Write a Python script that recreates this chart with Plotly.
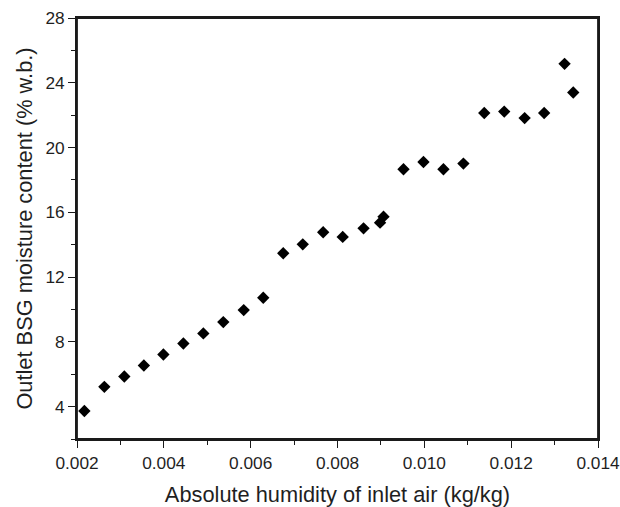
import plotly.graph_objects as go

# Data
humidity = [0.00217, 0.00263, 0.00309, 0.00354, 0.00399, 0.00445, 0.00491, 0.00537,
            0.00584, 0.00629, 0.00675, 0.00720, 0.00767, 0.00812, 0.00860, 0.00898,
            0.00906, 0.00952, 0.00998, 0.01044, 0.01090, 0.01138, 0.01184, 0.01231,
            0.01276, 0.01323, 0.01343]
moisture = [3.73, 5.22, 5.86, 6.54, 7.22, 7.90, 8.52, 9.22,
            9.96, 10.72, 13.47, 14.02, 14.77, 14.48, 15.01, 15.36,
            15.73, 18.66, 19.11, 18.66, 19.01, 22.13, 22.22, 21.82,
            22.13, 25.17, 23.40]

x_ticks = [0.002, 0.004, 0.006, 0.008, 0.010, 0.012, 0.014]
x_ticklabels = ["0.002", "0.004", "0.006", "0.008", "0.010", "0.012", "0.014"]
y_ticks = [4, 8, 12, 16, 20, 24, 28]

FONT = "Liberation Sans, Arial, sans-serif"
INK = "#1f1f1f"
LINE = "#1a1a1a"

fig = go.Figure()
fig.add_trace(go.Scatter(
    x=humidity, y=moisture, mode="markers",
    marker=dict(symbol="diamond", size=9.5, color="black", line=dict(width=0)),
    showlegend=False,
))

axis_common = dict(
    showgrid=False, zeroline=False, showline=True, linecolor=LINE, linewidth=1.8,
    mirror=True, ticks="outside", ticklen=7, tickwidth=1.3, tickcolor=LINE,
    tickfont=dict(family=FONT, size=17.3, color=INK),
    ticklabeloverflow="allow", automargin=False,
)

fig.update_xaxes(
    range=[0.002, 0.014], tickvals=x_ticks, ticktext=x_ticklabels,
    minor=dict(dtick=0.001, ticks="outside", ticklen=4, tickwidth=1.3, tickcolor=LINE),
    title=dict(text="Absolute humidity of inlet air (kg/kg)",
               font=dict(family=FONT, size=21.8, color=INK), standoff=16),
    **axis_common,
)
fig.update_yaxes(
    range=[2, 28], tickvals=y_ticks,
    minor=dict(dtick=2, ticks="outside", ticklen=4, tickwidth=1.3, tickcolor=LINE),
    title=dict(text="Outlet BSG moisture content (% w.b.)",
               font=dict(family=FONT, size=21.8, color=INK), standoff=7),
    **axis_common,
)

# frame around the plotting area (top and right edges)
fig.add_shape(type="rect", xref="paper", yref="paper", x0=0, y0=0, x1=1, y1=1,
              line=dict(color=LINE, width=1.8), fillcolor="rgba(0,0,0,0)", layer="above")

fig.update_layout(
    width=620, height=507,
    margin=dict(l=77, r=22, t=18, b=68),
    plot_bgcolor="white", paper_bgcolor="white",
)

fig.write_html("out.html")
